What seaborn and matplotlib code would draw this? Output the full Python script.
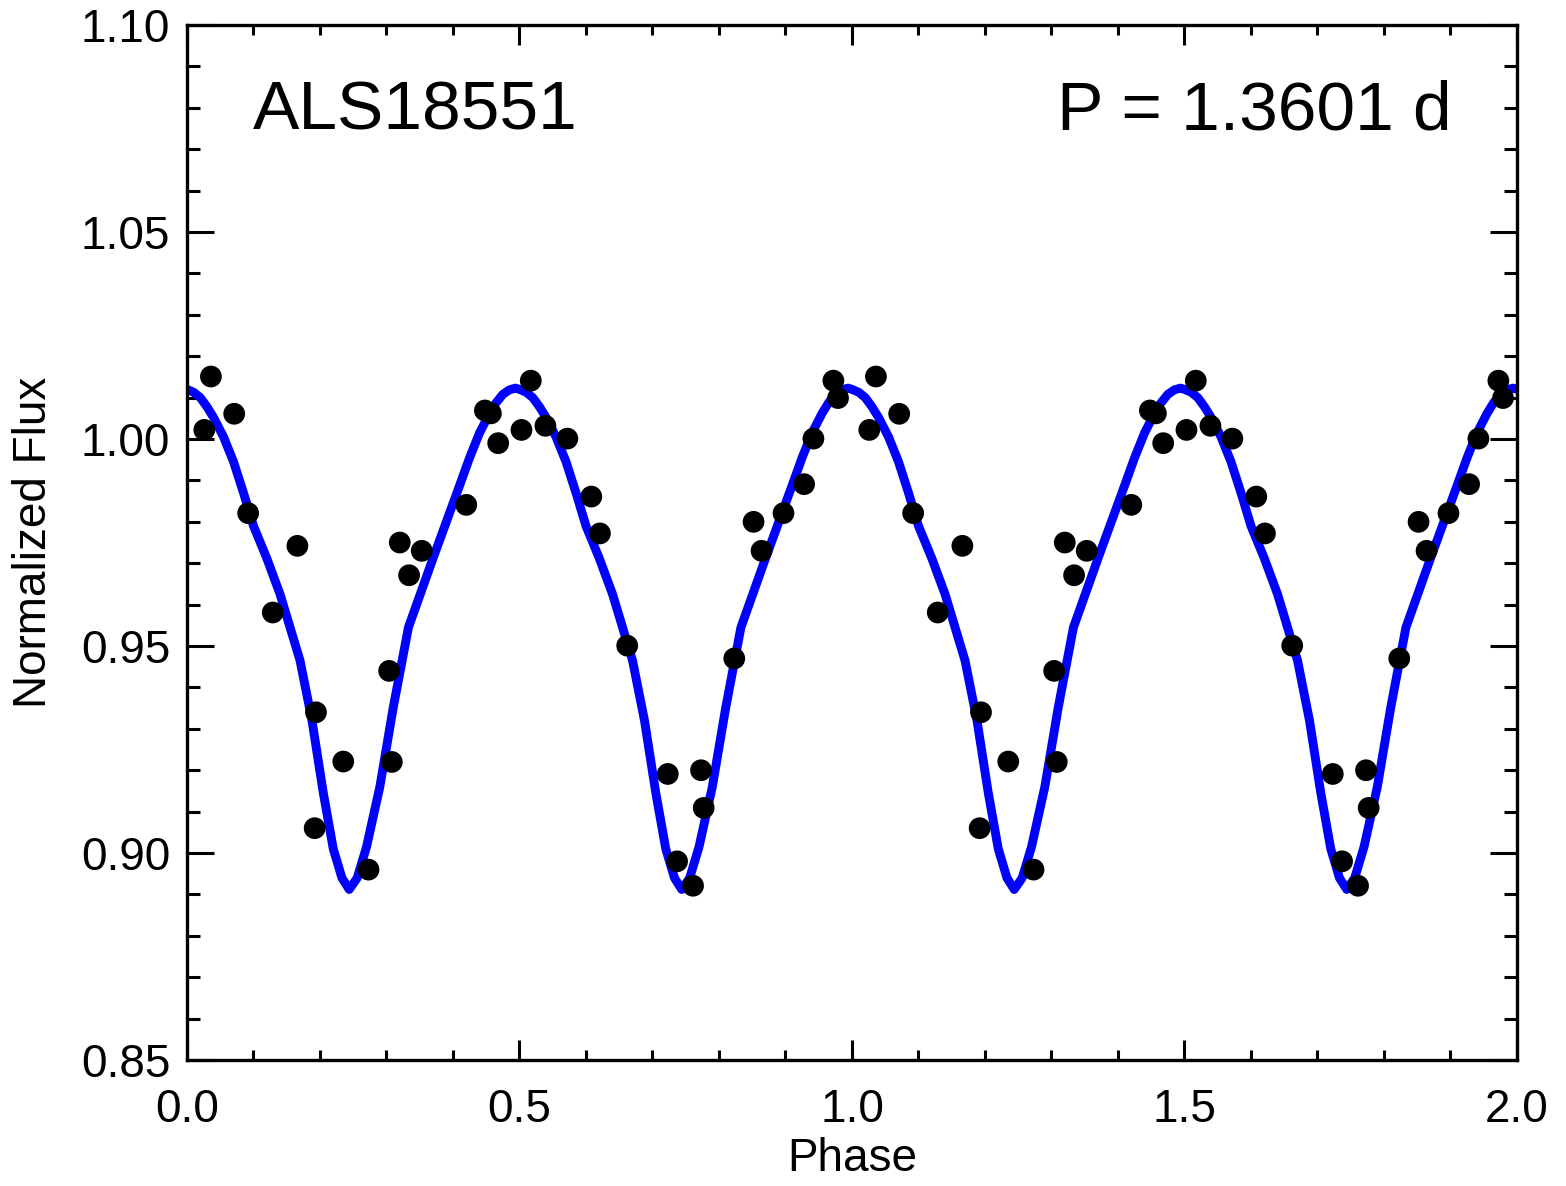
import matplotlib
matplotlib.use("Agg")
import matplotlib.pyplot as plt
from matplotlib.ticker import MultipleLocator, FormatStrFormatter
import seaborn as sns
import numpy as np
import pandas as pd

# folded photometry, one cycle (phase 0-1); plotted twice
phase_obs = [0.026, 0.036, 0.071, 0.092, 0.129, 0.166, 0.194, 0.192, 0.235, 0.273,
             0.304, 0.308, 0.320, 0.334, 0.353, 0.420, 0.448, 0.457, 0.468, 0.503,
             0.517, 0.539, 0.572, 0.608, 0.621, 0.662, 0.723, 0.737, 0.761, 0.773,
             0.777, 0.823, 0.852, 0.864, 0.897, 0.928, 0.942, 0.972, 0.979]
flux_obs = [1.0022, 1.0151, 1.0061, 0.9821, 0.9581, 0.9742, 0.9340, 0.9060, 0.9221, 0.8960,
            0.9440, 0.9220, 0.9750, 0.9671, 0.9730, 0.9841, 1.0069, 1.0062, 0.9990, 1.0022,
            1.0141, 1.0032, 1.0001, 0.9861, 0.9772, 0.9501, 0.9191, 0.8980, 0.8921, 0.9200,
            0.9109, 0.9470, 0.9800, 0.9730, 0.9821, 0.9891, 1.0001, 1.0141, 1.0099]

# model light curve, read over half a cycle (repeats every 0.5 in phase)
model_phase = [0.000, 0.010, 0.020, 0.030, 0.040, 0.055, 0.070, 0.085, 0.100, 0.120,
               0.140, 0.155, 0.170, 0.188, 0.205, 0.220, 0.233, 0.244, 0.256, 0.270,
               0.290, 0.310, 0.333, 0.350, 0.370, 0.390, 0.410, 0.425, 0.440, 0.455,
               0.465, 0.475, 0.485, 0.494]
model_flux = [1.0120, 1.0113, 1.0100, 1.0078, 1.0052, 1.0005, 0.9945, 0.9870, 0.9790, 0.9712,
              0.9625, 0.9545, 0.9465, 0.9320, 0.9145, 0.9010, 0.8940, 0.8912, 0.8940, 0.9015,
              0.9160, 0.9350, 0.9545, 0.9622, 0.9712, 0.9800, 0.9888, 0.9955, 1.0015, 1.0062,
              1.0088, 1.0108, 1.0119, 1.0123]

star_name = "ALS18551"
period_text = "P = 1.3601 d"

pts = pd.DataFrame({
    "phase": np.concatenate([phase_obs, np.array(phase_obs) + 1.0]),
    "flux": np.concatenate([flux_obs, flux_obs]),
})
mod = pd.DataFrame({
    "phase": np.concatenate([np.array(model_phase) + k * 0.5 for k in range(4)] + [[2.0]]),
    "flux": np.concatenate([model_flux] * 4 + [[model_flux[0]]]),
})

sns.set_style("ticks")
plt.rcParams["font.family"] = ["Liberation Sans", "DejaVu Sans"]
plt.rcParams["text.color"] = "black"
plt.rcParams["axes.labelcolor"] = "black"

fig = plt.figure(figsize=(15.66, 11.86), dpi=100)
ax = fig.add_axes([0.1194, 0.1062, 0.8493, 0.8727])

sns.lineplot(data=mod, x="phase", y="flux", sort=False, estimator=None,
             color="#0000ff", linewidth=6.4, ax=ax, zorder=2)
sns.scatterplot(data=pts, x="phase", y="flux", color="black", s=245,
                edgecolor="none", ax=ax, zorder=3)

ax.set_xlim(0, 2)
ax.set_ylim(0.85, 1.10)
ax.xaxis.set_major_locator(MultipleLocator(0.5))
ax.xaxis.set_minor_locator(MultipleLocator(0.1))
ax.yaxis.set_major_locator(MultipleLocator(0.05))
ax.yaxis.set_minor_locator(MultipleLocator(0.01))
ax.xaxis.set_major_formatter(FormatStrFormatter("%.1f"))
ax.yaxis.set_major_formatter(FormatStrFormatter("%.2f"))

ax.tick_params(which="both", direction="in", top=True, right=True,
               width=2.2, colors="black", labelsize=33)
ax.tick_params(axis="x", which="major", length=14.4, pad=20)
ax.tick_params(axis="x", which="minor", length=7.2)
ax.tick_params(axis="y", which="major", length=19.4, pad=12)
ax.tick_params(axis="y", which="minor", length=9.6)
for sp in ax.spines.values():
    sp.set_visible(True)
    sp.set_linewidth(2.4)
    sp.set_color("black")

ax.set_xlabel("Phase", fontsize=33, labelpad=4)
ax.set_ylabel("Normalized Flux", fontsize=33, labelpad=18)

ax.text(0.0496, 0.8986, star_name, transform=ax.transAxes, fontsize=50,
        ha="left", va="baseline")
ax.text(0.951, 0.8986, period_text, transform=ax.transAxes, fontsize=50,
        ha="right", va="baseline")

fig.savefig("out.png", dpi=100, facecolor="white")
